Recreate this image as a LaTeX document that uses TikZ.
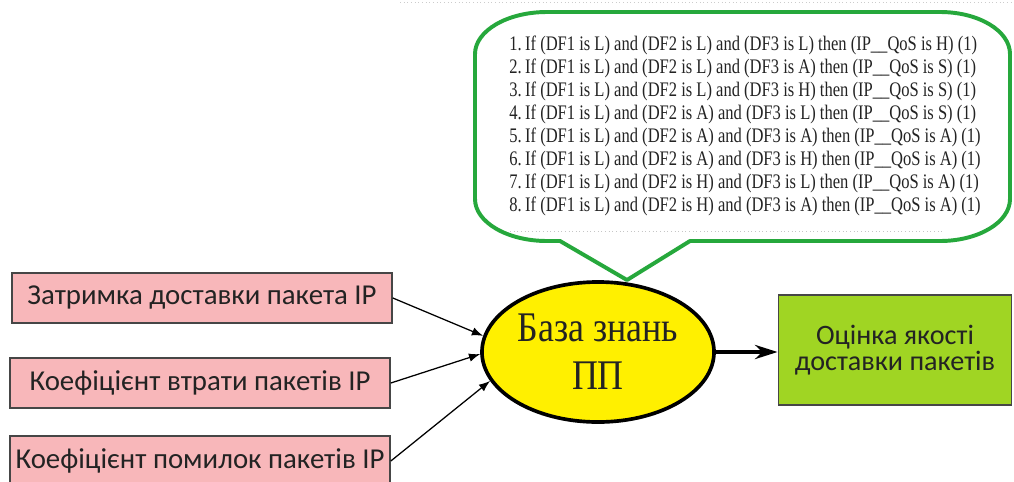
\documentclass[tikz,border=0pt]{standalone}
\usepackage{fontspec}
\setmainfont{Carlito}
\newfontfamily\rulefont[FakeStretch=0.8]{Liberation Serif}
\newfontfamily\kbfont[FakeStretch=0.85]{Liberation Serif}
\usetikzlibrary{arrows.meta, shapes.geometric}

\definecolor{inpink}{RGB}{248,183,186}
\definecolor{outlime}{RGB}{160,213,35}
\definecolor{kbyellow}{RGB}{255,240,0}
\definecolor{callgreen}{RGB}{38,168,60}
\definecolor{boxgray}{RGB}{70,70,70}
\definecolor{txtgray}{RGB}{35,35,35}

\begin{document}
\begin{tikzpicture}[x=0.025cm, y=-0.025cm,
    inbox/.style={draw=boxgray, line width=1.1pt, fill=inpink, text=txtgray,
      minimum width=9.5cm, minimum height=1.25cm, inner sep=0pt,
      font=\fontsize{20.5}{23}\selectfont},
    outbox/.style={draw=boxgray, line width=1.1pt, fill=outlime, text=txtgray,
      minimum width=5.83cm, minimum height=2.75cm, inner sep=0pt, align=center,
      font=\fontsize{20}{19}\selectfont},
    kbnode/.style={ellipse, draw=black, line width=2.6pt, fill=kbyellow, text=txtgray,
      minimum width=5.8cm, minimum height=3.5cm, inner sep=0pt, align=center,
      font=\kbfont\fontsize{30}{34}\selectfont},
    rule/.style={anchor=west, inner sep=0pt, text=txtgray,
      font=\rulefont\fontsize{14.7}{16}\selectfont},
    inarrow/.style={-{Latex[length=8pt, width=6pt]}, line width=0.9pt, black},
    outarrow/.style={-{Stealth[length=16pt, width=10pt]}, line width=3.4pt, black}]
  \useasboundingbox (0,0) rectangle (1014,481);
  \clip (0,0) rectangle (1014,481);

  % Faint dotted rule along the top edge
  \draw[dotted, gray!40, line width=0.6pt] (400,2) -- (1014,2);

  % Callout holding the rule base
  \draw[callgreen, line width=2.8pt, line join=round, fill=white]
    (547,12) -- (940,12) arc[start angle=-90, end angle=0, x radius=70, y radius=42]
    -- (1010,199) arc[start angle=0, end angle=90, x radius=70, y radius=42]
    -- (690,241) -- (627,280) -- (560,241) -- (547,241)
    arc[start angle=90, end angle=180, x radius=72, y radius=42]
    -- (475,54) arc[start angle=180, end angle=270, x radius=72, y radius=42] -- cycle;

  % Fuzzy rules, one line each
  \foreach \n/\a/\b/\c [evaluate=\n as \ypos using 45+23*(\n-1)] in
      {1/L/L/H, 2/L/A/S, 3/L/H/S, 4/A/L/S, 5/A/A/A, 6/A/H/A, 7/H/L/A, 8/H/A/A}{
    \node[rule] (rule\n) at (509,\ypos)
      {\n.\,If (DF1 is L) and (DF2 is \a) and (DF3 is \b) then (IP\_\_QoS is \c) (1)};
  }
  \draw[dotted, gray!45, line width=0.6pt] (510,231) -- (945,231);

  % Input parameters
  \node[inbox] (delay) at (202,298) {Затримка доставки пакета IP};
  \node[inbox] (loss)  at (200,383) {Коефіцієнт втрати пакетів IP};
  \node[inbox] (err)   at (200,461) {Коефіцієнт помилок пакетів IP};

  % Knowledge base and the result
  \node[kbnode] (kb) at (598,352) {База знань\\ПП};
  \node[outbox] (out) at (895,350) {Оцінка якості\\доставки пакетів};

  % Connectors
  \draw[inarrow] (delay.east) -- (kb.172);
  \draw[inarrow] (loss.east) -- (kb.181);
  \draw[inarrow] (err.east) -- (kb.195);
  \draw[outarrow] (kb.east) -- (kb.east -| out.west);
\end{tikzpicture}
\end{document}
